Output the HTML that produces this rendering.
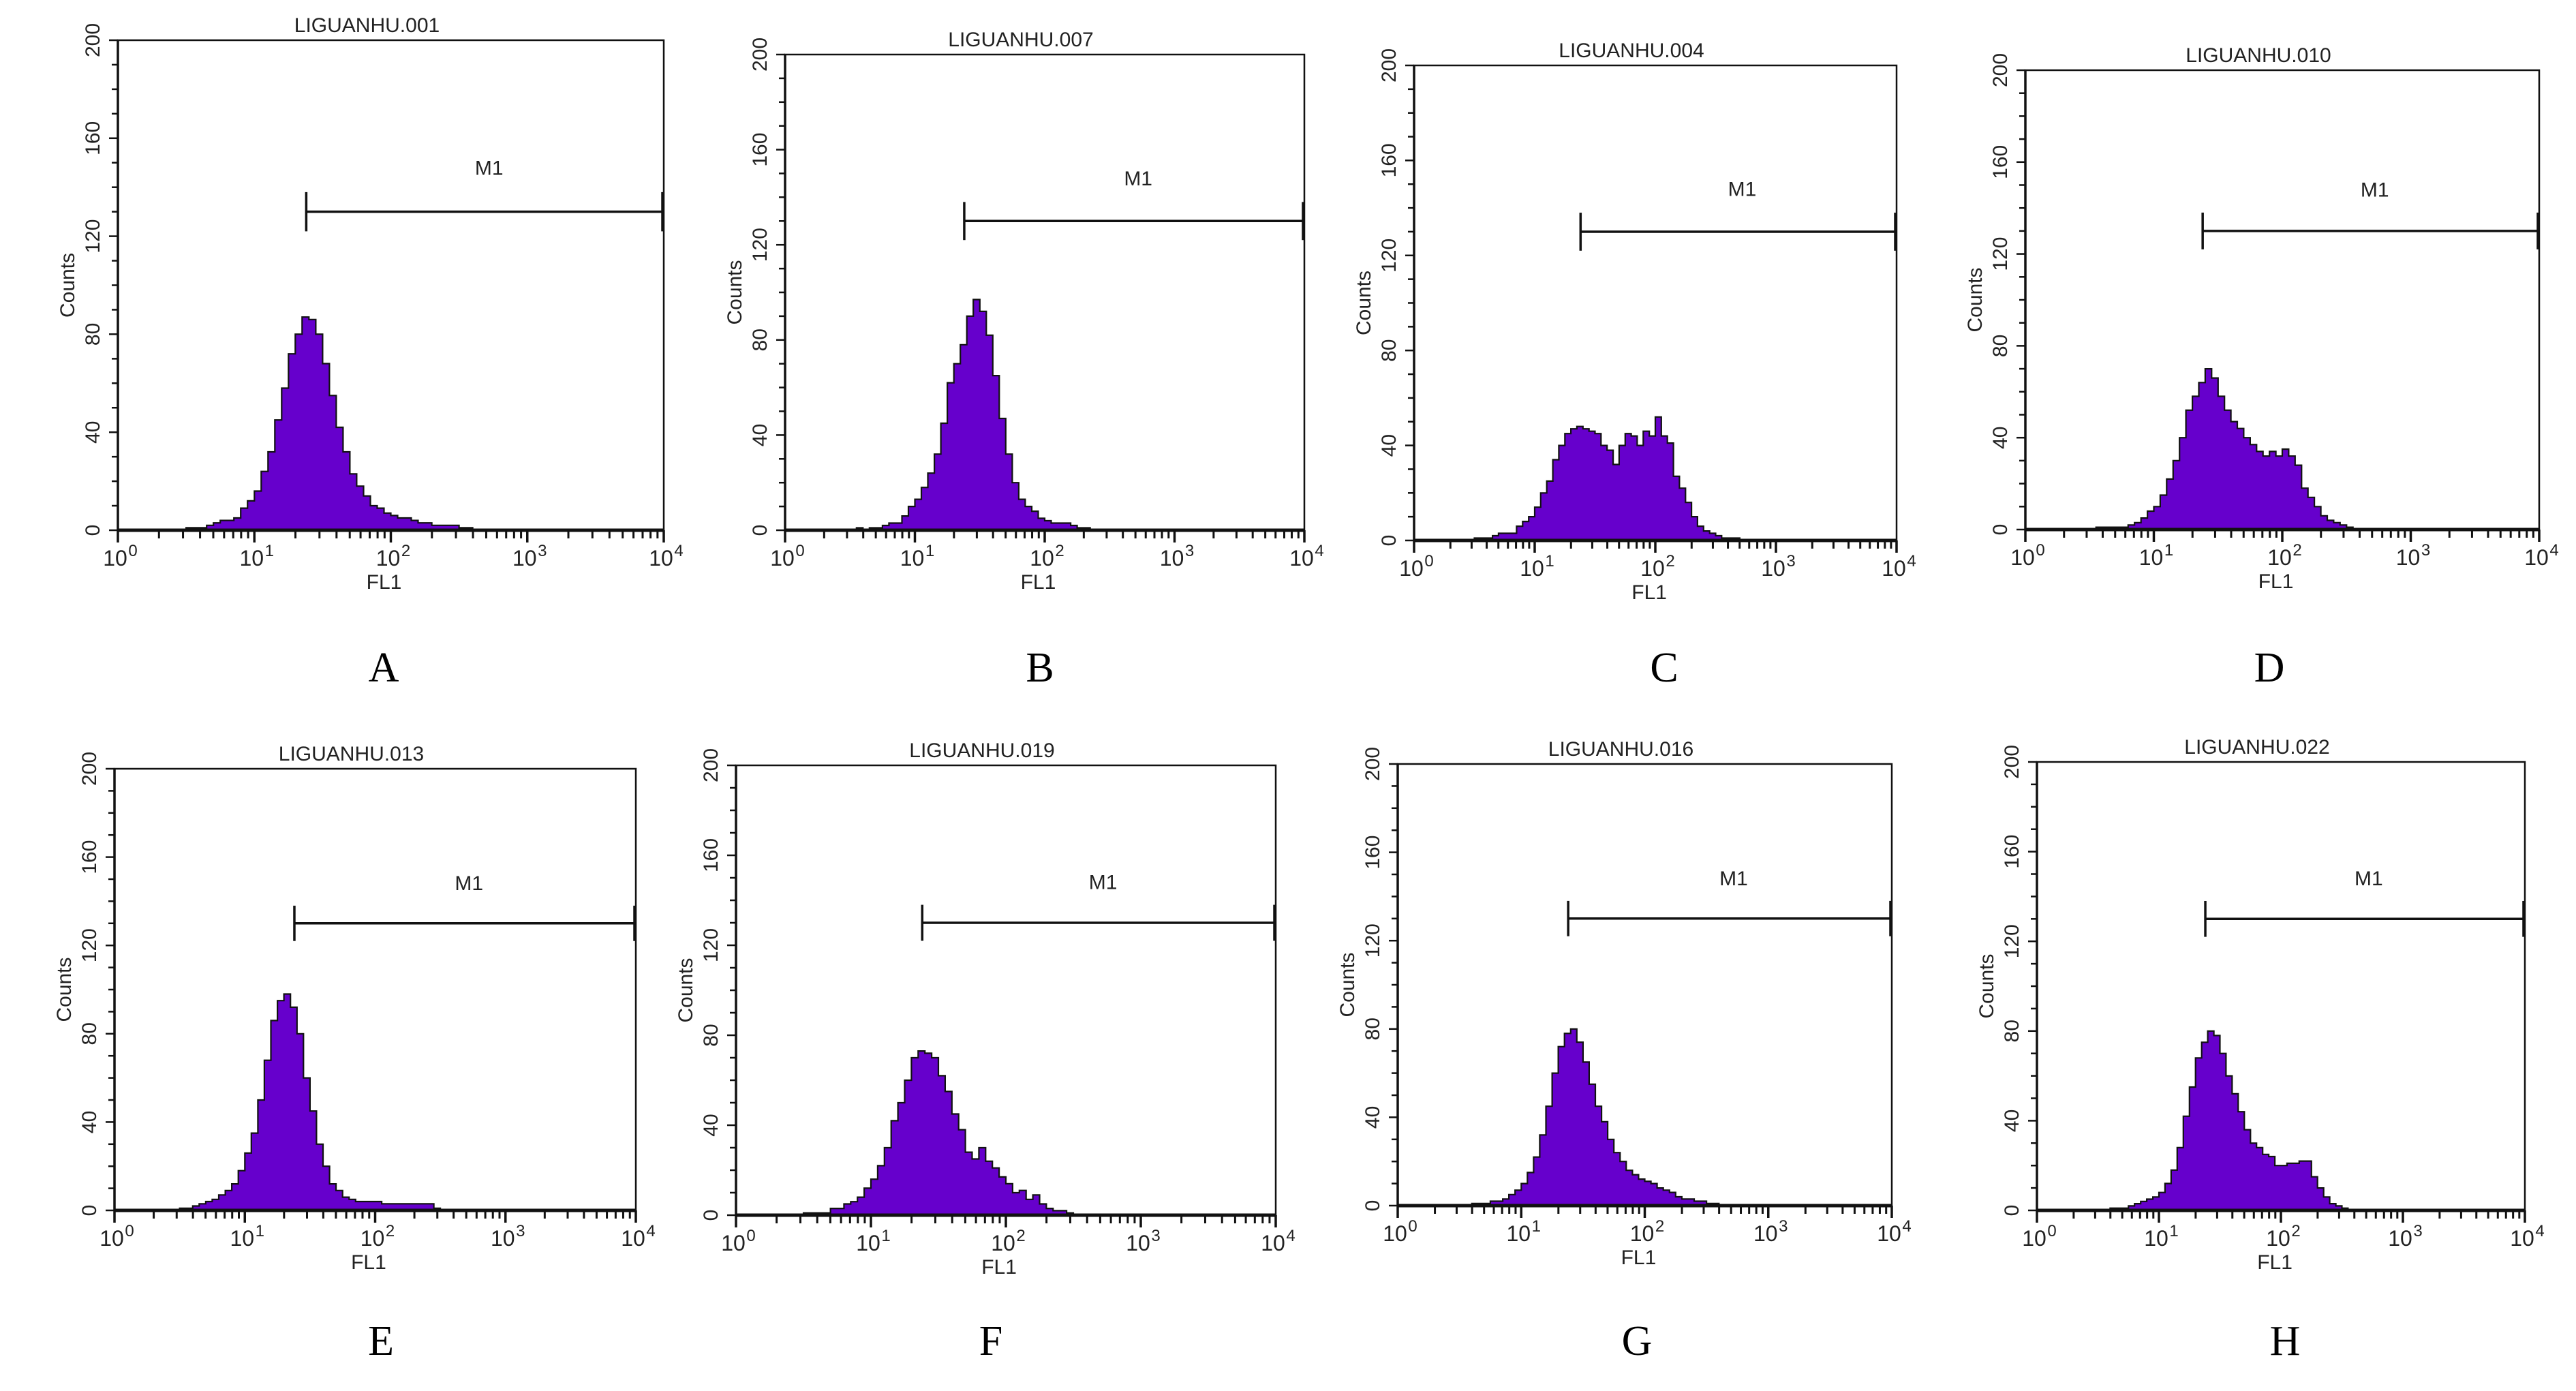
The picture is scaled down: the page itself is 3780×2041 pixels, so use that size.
<!DOCTYPE html>
<html><head><meta charset="utf-8">
<style>
html,body{margin:0;padding:0;background:#fff;}
svg{display:block;}
text{font-family:"Liberation Sans",Arial,sans-serif;fill:#222;}
.lbl{font-family:"Liberation Serif","Times New Roman",serif;fill:#000;}
</style></head>
<body>
<svg id="fig" xmlns="http://www.w3.org/2000/svg" width="3780" height="2041" viewBox="0 0 3780 2041"></svg>
<script>
// ---- data: histogram counts per 0.05-decade bin starting at log10(FL1)=0.5 ----
const binStart = 0.5;
const binStep = 0.05;
const titles = ["LIGUANHU.001","LIGUANHU.007","LIGUANHU.004","LIGUANHU.010","LIGUANHU.013","LIGUANHU.019","LIGUANHU.016","LIGUANHU.022"];
const panelLetters = ["A","B","C","D","E","F","G","H"];
const yTicks = [0,40,80,120,160,200];
const xTickExps = [0,1,2,3,4];
const markerStartFL1 = 24;
const markerCount = 130;
const countsA = [1,1,1,2,3,4,4,5,9,12,16,24,32,45,58,72,80,87,86,80,68,55,42,32,23,18,14,10,9,7,6,5,5,4,3,3,2,2,2,2,1,1,0];
const countsB = [0,1,0,1,1,2,3,3,6,10,13,18,24,32,45,62,70,78,90,97,92,82,65,47,32,20,13,10,8,5,4,3,3,3,2,1,1,0];
const countsC = [1,1,1,2,3,3,3,6,8,10,14,20,25,34,40,45,47,48,47,46,45,40,38,32,40,45,44,40,46,44,52,44,41,27,22,16,10,6,4,3,2,1,1,1,0];
const countsD = [0,1,1,1,1,1,2,3,5,8,10,15,22,30,40,52,58,64,70,66,58,52,47,44,40,37,34,32,34,32,35,32,28,18,14,10,6,4,3,2,1,0];
const countsE = [1,1,2,3,4,5,7,9,12,18,26,35,50,68,86,95,98,92,80,60,45,30,20,12,9,6,5,4,4,4,4,3,3,3,3,3,3,3,3,1,0];
const countsF = [1,1,1,1,3,3,5,6,8,12,16,22,30,42,50,60,70,73,72,70,62,55,45,38,28,25,30,24,21,17,14,10,11,7,9,5,3,2,2,1,0];
const countsG = [0,0,1,1,1,2,2,3,5,7,10,15,22,32,45,60,72,78,80,74,65,55,45,38,30,24,20,16,14,12,11,10,8,7,6,4,3,3,2,2,1,1,0];
const countsH = [0,0,1,1,1,2,3,4,5,6,8,12,18,28,42,55,68,75,80,78,70,60,52,44,36,30,28,25,24,20,20,21,21,22,22,15,10,6,3,2,1,0];
const allCounts = [countsA,countsB,countsC,countsD,countsE,countsF,countsG,countsH];

// ---- layout (plot boxes in pixels) ----
const boxes = [
  {l:173,t:59,r:974,b:778,lx:563,ly:1000},
  {l:1152,t:80,r:1914,b:778,lx:1526,ly:1000},
  {l:2075,t:96,r:2783,b:793,lx:2442,ly:1000},
  {l:2972,t:103,r:3726,b:777,lx:3330,ly:1000},
  {l:168,t:1128,r:933,b:1776,lx:559,ly:1988},
  {l:1080,t:1123,r:1872,b:1783,lx:1454,ly:1988},
  {l:2051,t:1121,r:2776,b:1769,lx:2402,ly:1988},
  {l:2989,t:1118,r:3705,b:1776,lx:3353,ly:1988}
];

const NS = "http://www.w3.org/2000/svg";
const svg = document.getElementById("fig");
function mk(tag, attrs, parent){
  const e = document.createElementNS(NS, tag);
  for (const k in attrs) e.setAttribute(k, attrs[k]);
  (parent||svg).appendChild(e);
  return e;
}

boxes.forEach((bx, p) => {
  const g = mk("g", {});
  
  
  const xs = v => bx.l + (v/4)*(bx.r-bx.l);          // v = log10(FL1)
  const ys = c => bx.b - (c/200)*(bx.b-bx.t);

  // histogram
  const counts = allCounts[p];
  let d = "M" + xs(binStart) + "," + ys(0);
  counts.forEach((c,i) => {
    const x0 = xs(binStart + i*binStep), x1 = xs(binStart + (i+1)*binStep);
    d += " L" + x0.toFixed(1) + "," + ys(c).toFixed(1) + " L" + x1.toFixed(1) + "," + ys(c).toFixed(1);
  });
  d += " L" + xs(binStart + counts.length*binStep).toFixed(1) + "," + ys(0) + " Z";
  const hist = mk("path", {d:d, fill:"#6600cc", stroke:"#111", "stroke-width":2.2, "stroke-linejoin":"miter"}, g);
  
  

  // frame
  const fr = mk("rect", {x:bx.l, y:bx.t, width:bx.r-bx.l, height:bx.b-bx.t, fill:"none", stroke:"#111", "stroke-width":2.5}, g);
  
  
  mk("line", {x1:bx.l, y1:bx.b, x2:bx.r, y2:bx.b, stroke:"#111", "stroke-width":5}, g);
  mk("line", {x1:bx.l, y1:bx.t, x2:bx.l, y2:bx.b, stroke:"#111", "stroke-width":3.5}, g);

  // y ticks
  for (let c=0; c<=200; c+=10){
    const major = c%40===0;
    mk("line", {x1:bx.l - (major?13:9), y1:ys(c), x2:bx.l, y2:ys(c), stroke:"#111", "stroke-width":2.5}, g);
  }
  yTicks.forEach(c => {
    const t = mk("text", {x:0, y:0, "font-size":30, "text-anchor":"middle", transform:"translate("+(bx.l-27)+","+ys(c)+") rotate(-90)"}, g);
    t.textContent = c;
    
    
  });
  const yt = mk("text", {x:0,y:0,"font-size":30,"text-anchor":"middle", transform:"translate("+(bx.l-64)+","+((bx.t+bx.b)/2)+") rotate(-90)"}, g);
  yt.textContent = "Counts";
  
  

  // x ticks (log minor)
  for (let e=0; e<4; e++){
    for (let m=1; m<=9; m++){
      const v = e + Math.log10(m);
      mk("line", {x1:xs(v), y1:bx.b, x2:xs(v), y2:bx.b + (m===1?18:12), stroke:"#111", "stroke-width":m===1?3.5:3}, g);
    }
  }
  mk("line", {x1:xs(4), y1:bx.b, x2:xs(4), y2:bx.b+18, stroke:"#111", "stroke-width":3.5}, g);
  xTickExps.forEach(e => {
    const t = mk("text", {x:xs(e)-4, y:bx.b+52, "font-size":32, "text-anchor":"middle"}, g);
    t.textContent = "10";
    
    
    const s = mk("text", {x:xs(e)+22, y:bx.b+38, "font-size":24, "text-anchor":"middle"}, g);
    s.textContent = e;
    
    
  });
  const xt = mk("text", {x:xs(1.95), y:bx.b+86, "font-size":30, "text-anchor":"middle"}, g);
  xt.textContent = "FL1";
  
  

  // title
  const tt = mk("text", {x:(bx.l+bx.r)/2 - 35, y:bx.t-12, "font-size":30, "text-anchor":"middle"}, g);
  tt.textContent = titles[p];
  
  

  // M1 marker
  const mx0 = xs(Math.log10(markerStartFL1)), mx1 = xs(4)-2, my = ys(markerCount);
  const mg = mk("g", {stroke:"#111", "stroke-width":3.5}, g);
  
  
  mk("line", {x1:mx0, y1:my, x2:mx1, y2:my}, mg);
  mk("line", {x1:mx0, y1:ys(138), x2:mx0, y2:ys(122)}, mg);
  mk("line", {x1:mx1, y1:ys(138), x2:mx1, y2:ys(122)}, mg);
  const m1 = mk("text", {x:xs(2.72), y:ys(145), "font-size":30, "text-anchor":"middle"}, g);
  m1.textContent = "M1";
  
  

  // panel letter
  const pl = mk("text", {x:bx.lx, y:bx.ly, "font-size":62, "text-anchor":"middle", class:"lbl"}, g);
  pl.textContent = panelLetters[p];
  
  
});
</script>
</body></html>
